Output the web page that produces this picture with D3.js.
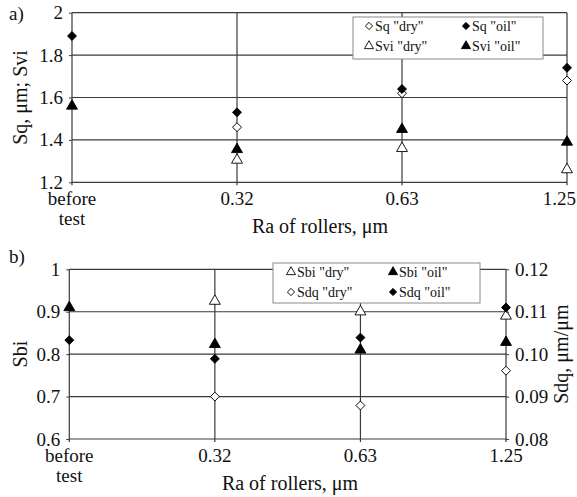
<!DOCTYPE html>
<html>
<head>
<meta charset="utf-8">
<script src="https://cdn.jsdelivr.net/npm/d3@7"></script>
<style>
  body { margin: 0; background: #fff; }
  svg { font-family: "Liberation Serif", "Times New Roman", serif; }
</style>
</head>
<body>
<div id="chart"></div>
<script>
// categories on the x axis (shared by both panels)
const categories = ["before test", "0.32", "0.63", "1.25"];

// panel a) Sq and Svi
const sqDry  = [null, 1.46, 1.62, 1.68];
const sqOil  = [1.89, 1.53, 1.64, 1.74];
const sviDry = [null, 1.305, 1.36, 1.26];
const sviOil = [1.56, 1.355, 1.45, 1.39];
const aTicks = [1.2, 1.4, 1.6, 1.8, 2];

// panel b) Sbi (left axis) and Sdq (right axis)
const sbiDry = [null, 0.925, 0.90, 0.89];
const sbiOil = [0.91, 0.823, 0.81, 0.828];
const sdqDry = [null, 0.090, 0.0879, 0.0961];
const sdqOil = [0.1033, 0.0989, 0.1039, 0.111];
const bTicks = [0.6, 0.7, 0.8, 0.9, 1];
const bRightTicks = [0.08, 0.09, 0.10, 0.11, 0.12];

const W = 577, H = 497;
const lineColor = "#3a3a3a";

const svg = d3.select("#chart").append("svg")
    .attr("width", W)
    .attr("height", H);

// diamond = square turned 45deg, triangle = d3 triangle
function shapePath(shape, size) {
    return d3.symbol()
        .type(shape === "diamond" ? d3.symbolSquare : d3.symbolTriangle)
        .size(size)();
}

function marker(g, x, y, values, shape, filled) {
    const size = shape === "diamond" ? 40 : 52;
    g.selectAll(null)
        .data(values.map((v, i) => ({ c: categories[i], v: v })).filter(d => d.v !== null))
        .enter()
        .append("path")
        .attr("d", shapePath(shape, size))
        .attr("transform", d => `translate(${x(d.c)},${y(d.v)})` + (shape === "diamond" ? " rotate(45)" : ""))
        .attr("fill", filled ? "#000" : "#fff")
        .attr("stroke", "#000")
        .attr("stroke-width", 0.9);
}

function legendSymbol(g, cx, cy, shape, filled) {
    g.append("path")
        .attr("d", shapePath(shape, shape === "diamond" ? 26 : 36))
        .attr("transform", `translate(${cx},${cy})` + (shape === "diamond" ? " rotate(45)" : ""))
        .attr("fill", filled ? "#000" : "#fff")
        .attr("stroke", "#000")
        .attr("stroke-width", 0.9);
}

function drawPanel(p) {
    const g = svg.append("g");

    const x = d3.scalePoint()
        .domain(categories)
        .range([p.left, p.right]);

    const y = d3.scaleLinear()
        .domain([p.ticks[0], p.ticks[p.ticks.length - 1]])
        .range([p.bottom, p.top]);

    // horizontal grid lines (incl. top border)
    g.selectAll(null)
        .data(p.ticks.slice(1))
        .enter()
        .append("line")
        .attr("x1", p.left).attr("x2", p.right)
        .attr("y1", d => y(d)).attr("y2", d => y(d))
        .attr("stroke", lineColor)
        .attr("stroke-width", 1.2);

    // vertical lines at each category
    g.selectAll(null)
        .data(categories)
        .enter()
        .append("line")
        .attr("x1", d => x(d)).attr("x2", d => x(d))
        .attr("y1", p.top).attr("y2", p.bottom + 3)
        .attr("stroke", lineColor)
        .attr("stroke-width", 1.2);

    // bottom axis line
    g.append("line")
        .attr("x1", p.left).attr("x2", p.right)
        .attr("y1", p.bottom).attr("y2", p.bottom)
        .attr("stroke", lineColor)
        .attr("stroke-width", 1.2);

    // left axis ticks and labels
    const leftAxis = d3.axisLeft(y).tickValues(p.ticks).tickSize(3).tickPadding(6)
        .tickFormat(d3.format(""));
    const la = g.append("g").attr("transform", `translate(${p.left},0)`).call(leftAxis);
    la.select(".domain").remove();
    la.selectAll("line").attr("stroke", lineColor);
    la.selectAll("text").style("font-size", "19px").attr("fill", "#111")
        .style("font-family", "Liberation Serif");

    // x tick labels (two lines for "before test")
    const xl = g.append("g");
    categories.forEach((c, k) => {
        const last = k === categories.length - 1 && p.clipLast;
        const cx = last ? W - 1 : x(c);
        const t = xl.append("text")
            .attr("x", cx)
            .attr("y", p.bottom + 23)
            .attr("text-anchor", last ? "end" : "middle")
            .style("font-size", "19px")
            .attr("fill", "#111");
        const parts = c === "before test" ? ["before", "test"] : [c];
        parts.forEach((s, i) => {
            t.append("tspan").attr("x", cx).attr("dy", i === 0 ? 0 : 20).text(s);
        });
    });

    // x axis title
    g.append("text")
        .attr("x", p.titleX)
        .attr("y", p.bottom + 51)
        .attr("text-anchor", "middle")
        .style("font-size", "20px")
        .attr("fill", "#111")
        .text("Ra of rollers, μm");

    // left axis title
    g.append("text")
        .attr("transform", `translate(${27},${(p.top + p.bottom) / 2}) rotate(-90)`)
        .attr("text-anchor", "middle")
        .style("font-size", "20px")
        .attr("fill", "#111")
        .text(p.yTitle);

    // panel label
    g.append("text")
        .attr("x", 9)
        .attr("y", p.labelY)
        .style("font-size", "19px")
        .attr("fill", "#111")
        .text(p.label);

    return { g, x, y };
}

// ---------- panel a ----------
const pa = drawPanel({
    left: 72, right: 567, top: 12.7, bottom: 182.3,
    ticks: aTicks, titleX: 320, clipLast: true,
    yTitle: "Sq, μm; Svi", label: "a)", labelY: 20
});
marker(pa.g, pa.x, pa.y, sqDry, "diamond", false);
marker(pa.g, pa.x, pa.y, sqOil, "diamond", true);
marker(pa.g, pa.x, pa.y, sviDry, "triangle", false);
marker(pa.g, pa.x, pa.y, sviOil, "triangle", true);

// legend a
const legA = svg.append("g");
legA.append("rect")
    .attr("x", 353).attr("y", 17).attr("width", 190).attr("height", 42)
    .attr("fill", "#fff").attr("stroke", "#8a8a8a").attr("stroke-width", 1);
[
    { t: 'Sq "dry"', s: "diamond", f: false, x: 369, y: 26 },
    { t: 'Sq "oil"', s: "diamond", f: true, x: 466, y: 26 },
    { t: 'Svi "dry"', s: "triangle", f: false, x: 369, y: 46 },
    { t: 'Svi "oil"', s: "triangle", f: true, x: 466, y: 46 }
].forEach(d => {
    legendSymbol(legA, d.x, d.y, d.s, d.f);
    legA.append("text").attr("x", d.x + 6).attr("y", d.y + 5)
        .style("font-size", "14px").attr("fill", "#111").text(d.t);
});

// ---------- panel b ----------
const pb = drawPanel({
    left: 69.3, right: 506, top: 269.3, bottom: 439,
    ticks: bTicks, titleX: 290, clipLast: false,
    yTitle: "Sbi", label: "b)", labelY: 263
});

// right axis for Sdq
const yR = d3.scaleLinear()
    .domain([bRightTicks[0], bRightTicks[bRightTicks.length - 1]])
    .range([439, 269.3]);
const rightAxis = d3.axisRight(yR).tickValues(bRightTicks).tickSize(3).tickPadding(6)
    .tickFormat(d3.format(".2f"));
const ra = svg.append("g").attr("transform", "translate(506,0)").call(rightAxis);
ra.select(".domain").remove();
ra.selectAll("line").attr("stroke", lineColor);
ra.selectAll("text").style("font-size", "19px").attr("fill", "#111")
    .style("font-family", "Liberation Serif");
svg.append("text")
    .attr("transform", `translate(${568},${(269.3 + 439) / 2}) rotate(-90)`)
    .attr("text-anchor", "middle")
    .style("font-size", "20px")
    .attr("fill", "#111")
    .text("Sdq, μm/μm");

marker(pb.g, pb.x, pb.y, sbiDry, "triangle", false);
marker(pb.g, pb.x, pb.y, sbiOil, "triangle", true);
marker(pb.g, pb.x, yR, sdqDry, "diamond", false);
marker(pb.g, pb.x, yR, sdqOil, "diamond", true);

// legend b
const legB = svg.append("g");
legB.append("rect")
    .attr("x", 273).attr("y", 263).attr("width", 207).attr("height", 40)
    .attr("fill", "#fff").attr("stroke", "#8a8a8a").attr("stroke-width", 1);
[
    { t: 'Sbi "dry"', s: "triangle", f: false, x: 291, y: 272 },
    { t: 'Sbi "oil"', s: "triangle", f: true, x: 393, y: 272 },
    { t: 'Sdq "dry"', s: "diamond", f: false, x: 291, y: 292 },
    { t: 'Sdq "oil"', s: "diamond", f: true, x: 393, y: 292 }
].forEach(d => {
    legendSymbol(legB, d.x, d.y, d.s, d.f);
    legB.append("text").attr("x", d.x + 6).attr("y", d.y + 5)
        .style("font-size", "14px").attr("fill", "#111").text(d.t);
});
</script>
</body>
</html>
